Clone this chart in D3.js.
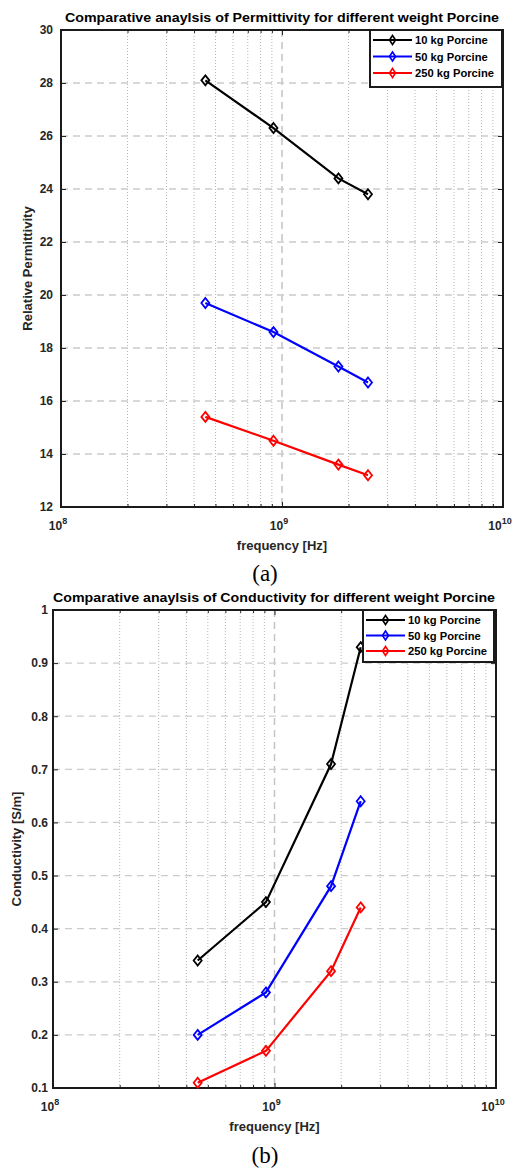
<!DOCTYPE html>
<html><head><meta charset="utf-8">
<script src="https://cdn.jsdelivr.net/npm/d3@7"></script>
<style>
html,body{margin:0;padding:0;background:#fff;}
svg{display:block;}
</style></head>
<body>
<svg id="chart" width="517" height="1169" font-family="'Liberation Sans', Arial, sans-serif"></svg>
<script>
// ---- data ----
const frequencies = [450e6, 915e6, 1.8e9, 2.45e9];
const seriesNames = ["10 kg Porcine", "50 kg Porcine", "250 kg Porcine"];
const seriesColors = ["#000000", "#0000ff", "#ff0000"];
const permittivity10kg = [28.1, 26.3, 24.4, 23.8];
const permittivity50kg = [19.7, 18.6, 17.3, 16.7];
const permittivity250kg = [15.4, 14.5, 13.6, 13.2];
const conductivity10kg = [0.34, 0.45, 0.71, 0.93];
const conductivity50kg = [0.20, 0.28, 0.48, 0.64];
const conductivity250kg = [0.11, 0.17, 0.32, 0.44];
const xTickExponents = [8, 9, 10];
const permittivityTicks = [12, 14, 16, 18, 20, 22, 24, 26, 28, 30];
const conductivityTicks = [0.1, 0.2, 0.3, 0.4, 0.5, 0.6, 0.7, 0.8, 0.9, 1];

const svg = d3.select("#chart");
const SANS = "'Liberation Sans', Arial, sans-serif";

function drawChart(cfg) {
  const {x0, x1, y0, y1} = cfg;
  const g = svg.append("g");
  const x = d3.scaleLog().domain([1e8, 1e10]).range([x0, x1]);
  const y = d3.scaleLinear().domain(cfg.yDomain).range([y1, y0]);

  const minor = [];
  for (let e = 8; e < 10; e++) for (let m = 2; m <= 9; m++) minor.push(m * Math.pow(10, e));
  g.append("g").selectAll("line").data(minor).join("line")
    .attr("x1", d => x(d)).attr("x2", d => x(d)).attr("y1", y0).attr("y2", y1)
    .attr("stroke", "#b5b5b5").attr("stroke-width", 1).attr("stroke-dasharray", "1,2");
  g.append("g").selectAll("line").data([1e9]).join("line")
    .attr("x1", d => x(d)).attr("x2", d => x(d)).attr("y1", y0).attr("y2", y1)
    .attr("stroke", "#c4c4c4").attr("stroke-width", 1.5).attr("stroke-dasharray", "7,5");
  g.append("g").selectAll("line").data(cfg.yTicks.slice(1, -1)).join("line")
    .attr("x1", x0).attr("x2", x1).attr("y1", d => y(d)).attr("y2", d => y(d))
    .attr("stroke", "#cccccc").attr("stroke-width", 1.3).attr("stroke-dasharray", "7,5");

  const axL = d3.axisLeft(y).tickValues(cfg.yTicks).tickSize(-5).tickPadding(cfg.yPad).tickFormat(cfg.yFormat);
  const axR = d3.axisRight(y).tickValues(cfg.yTicks).tickSize(-5).tickFormat("");
  const axBmin = d3.axisBottom(x).tickValues(minor).tickSize(-3).tickFormat("");
  const axTmin = d3.axisTop(x).tickValues(minor).tickSize(-3).tickFormat("");
  const majors = xTickExponents.map(e => Math.pow(10, e));
  const axB = d3.axisBottom(x).tickValues(majors).tickSize(-5).tickFormat("");
  const axT = d3.axisTop(x).tickValues(majors).tickSize(-5).tickFormat("");
  const style = sel => {
    sel.attr("font-family", SANS);
    sel.select(".domain").remove();
    sel.selectAll(".tick line").attr("stroke", "#262626").attr("stroke-width", 1);
    sel.selectAll(".tick text").attr("fill", "#262626").attr("font-size", 12).attr("font-weight", "bold");
  };
  g.append("g").attr("transform", `translate(${x0},0)`).call(axL).call(style);
  g.append("g").attr("transform", `translate(${x1},0)`).call(axR).call(style);
  g.append("g").attr("transform", `translate(0,${y1})`).call(axBmin).call(style);
  g.append("g").attr("transform", `translate(0,${y0})`).call(axTmin).call(style);
  g.append("g").attr("transform", `translate(0,${y1})`).call(axB).call(style);
  g.append("g").attr("transform", `translate(0,${y0})`).call(axT).call(style);

  const xl = g.append("g").selectAll("text").data(xTickExponents).join("text")
    .attr("x", d => x(Math.pow(10, d)) - 3).attr("y", y1 + 23)
    .attr("text-anchor", "middle").attr("font-size", 12).attr("font-weight", "bold").attr("fill", "#262626");
  xl.append("tspan").text("10");
  xl.append("tspan").attr("dy", -6).attr("font-size", 9).text(d => d);

  g.append("rect").attr("x", x0).attr("y", y0).attr("width", x1 - x0).attr("height", y1 - y0)
    .attr("fill", "none").attr("stroke", "#1a1a1a").attr("stroke-width", 2);

  const line = d3.line().x((d, i) => x(frequencies[i])).y(d => y(d));
  const diamond = (cx, cy) => `M${cx},${cy - 5}L${cx + 4},${cy}L${cx},${cy + 5}L${cx - 4},${cy}Z`;
  cfg.series.forEach((vals, si) => {
    const s = g.append("g");
    s.append("path").datum(vals).attr("d", line).attr("fill", "none")
      .attr("stroke", seriesColors[si]).attr("stroke-width", 2.2);
    s.selectAll("path.m").data(vals).join("path").attr("class", "m")
      .attr("d", (d, i) => diamond(x(frequencies[i]), y(d)))
      .attr("fill", "none").attr("stroke", seriesColors[si]).attr("stroke-width", 1.8);
  });

  g.append("text").attr("x", (x0 + x1) / 2 + cfg.titleDx).attr("y", y0 - 8)
    .attr("text-anchor", "middle").attr("font-size", 12.5).attr("font-weight", "bold").attr("fill", "#000")
    .attr("textLength", cfg.titleLen).attr("lengthAdjust", "spacingAndGlyphs").text(cfg.title);
  g.append("text").attr("x", x(1e9)).attr("y", y1 + 43).attr("text-anchor", "middle")
    .attr("font-size", 13).attr("font-weight", "bold").attr("fill", "#262626").text("frequency [Hz]");
  g.append("text").attr("transform", `translate(${cfg.yLabelX},${(y0 + y1) / 2}) rotate(-90)`)
    .attr("text-anchor", "middle").attr("font-size", 13).attr("font-weight", "bold").attr("fill", "#262626")
    .text(cfg.yLabel);

  const L = cfg.legend;
  const lg = g.append("g");
  lg.append("rect").attr("x", L.x).attr("y", L.y).attr("width", L.w).attr("height", L.h)
    .attr("fill", "#fff").attr("stroke", "#1a1a1a").attr("stroke-width", 2);
  seriesNames.forEach((name, i) => {
    const ry = L.y + L.r0 + i * L.dr;
    lg.append("line").attr("x1", L.x + 3).attr("x2", L.x + 42).attr("y1", ry).attr("y2", ry)
      .attr("stroke", seriesColors[i]).attr("stroke-width", 2.2);
    lg.append("path").attr("d", `M${L.x + 22.5},${ry - 4.5}L${L.x + 25.5},${ry}L${L.x + 22.5},${ry + 4.5}L${L.x + 19.5},${ry}Z`)
      .attr("fill", "none").attr("stroke", seriesColors[i]).attr("stroke-width", 1.6);
    lg.append("text").attr("x", L.x + 45).attr("y", ry + 4).attr("font-size", 11.2)
      .attr("font-weight", "bold").attr("fill", "#000").text(name);
  });

  svg.append("text").attr("x", 265).attr("y", cfg.captionY).attr("text-anchor", "middle")
    .attr("font-family", "'Liberation Serif', 'Times New Roman', serif").attr("font-size", 23)
    .attr("fill", "#000").text(cfg.caption);
}

drawChart({
  x0: 61, x1: 503, y0: 30, y1: 507,
  yDomain: [12, 30], yTicks: permittivityTicks, yFormat: d3.format("d"), yPad: 8,
  series: [permittivity10kg, permittivity50kg, permittivity250kg],
  title: "Comparative anaylsis of Permittivity for different weight Porcine",
  titleDx: 0, titleLen: 434,
  yLabel: "Relative Permittivity", yLabelX: 32,
  legend: {x: 370, y: 30, w: 132, h: 57, r0: 10, dr: 16.5},
  caption: "(a)", captionY: 581
});
drawChart({
  x0: 53, x1: 496, y0: 610, y1: 1088,
  yDomain: [0.1, 1], yTicks: conductivityTicks, yFormat: d => (d === 1 ? "1" : d3.format(".1f")(d)), yPad: 5,
  series: [conductivity10kg, conductivity50kg, conductivity250kg],
  title: "Comparative anaylsis of Conductivity for different weight Porcine",
  titleDx: -0.5, titleLen: 442,
  yLabel: "Conductivity [S/m]", yLabelX: 21,
  legend: {x: 363, y: 610, w: 131, h: 52, r0: 10, dr: 15.5},
  caption: "(b)", captionY: 1163
});
</script>
</body></html>
